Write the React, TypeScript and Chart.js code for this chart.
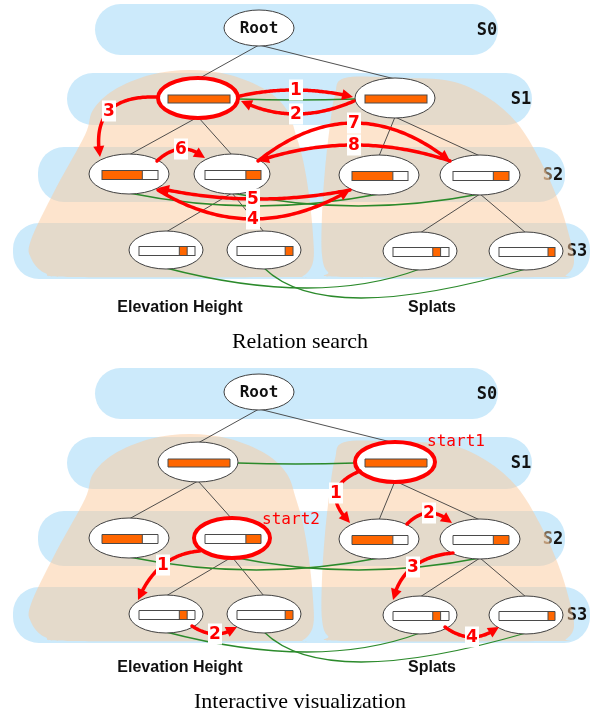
import React, { useEffect, useRef } from 'react';
import { Chart, registerables } from 'chart.js';

Chart.register(...registerables);

// ---------- panels ----------
const panelOffset = [0, 364];
const panelTitle = ['Relation search', 'Interactive visualization'];
const panelTitleY = [342, 338];
const panelGroupY = [308, 304];

const groupNames = ['Elevation Height', 'Splats'];
const groupX = [180, 432];

// ---------- scale bands ----------
const bandNames = ['S0', 'S1', 'S2', 'S3'];
const bandLeft = [95, 67, 38, 13];
const bandRight = [498, 532, 565, 590];
const bandTop = [4, 73, 147, 223];
const bandBottom = [55, 125, 202, 279];
const bandLabelX = [487, 521, 553, 577];

// ---------- nodes ----------
const nodeLevel = [0, 1, 1, 2, 2, 2, 2, 3, 3, 3, 3];
const nodeX = [259, 198, 395, 129, 232, 379, 480, 166, 264, 420, 526];
const nodeY = [28, 98, 98, 174, 174, 175, 175, 250, 250, 251, 251];
const nodeRx = [35, 40, 40, 40, 38, 40, 40, 37, 37, 37, 37];
const nodeRy = [18, 20, 20, 20, 20, 20, 20, 19, 19, 19, 19];
const barStart = [0, 0, 0, 0, 0.73, 0, 0.72, 0.72, 0.86, 0.71, 0.875];
const barEnd = [0, 1, 1, 0.72, 1, 0.73, 1, 0.86, 1, 0.85, 1];
const levelBarW = [0, 62, 56, 56];
const levelBarH = [0, 8, 9, 9];

// tree edges
const edgeParent = [0, 0, 1, 1, 2, 2, 4, 4, 6, 6];
const edgeChild = [1, 2, 3, 4, 5, 6, 7, 8, 9, 10];

// green relation links
const greenFrom = [1, 3, 4, 7, 8];
const greenTo = [2, 5, 6, 9, 10];
const greenMidX = [296, 254, 356, 305, 360];
const greenMidY = [100, 206, 206, 288, 298];

// blobs (data groups)
const leftBlobX = [85, 93, 114, 150, 190, 230, 266, 287, 296, 303, 309, 313, 313, 303, 285, 75, 45, 31, 31, 55];
const leftBlobY = [135, 110, 90, 75, 70, 75, 90, 110, 135, 160, 195, 235, 262, 276, 277, 277, 273, 258, 240, 190];
const rightBlobX = [345, 400, 450, 487, 517, 540, 558, 569, 574, 566, 550, 345, 328, 322, 322, 325, 330, 335];
const rightBlobY = [78, 78, 81, 97, 123, 160, 200, 235, 262, 275, 277, 277, 272, 255, 215, 170, 125, 95];

// red search arrows
const arrowPanel = [0, 0, 0, 0, 0, 0, 0, 0, 1, 1, 1, 1, 1, 1];
const arrowLabel = ['1', '2', '3', '6', '7', '8', '5', '4', '1', '2', '1', '2', '3', '4'];
const arrowX0 = [240, 354, 157, 157, 258, 450, 350, 158, 360, 407, 200, 192, 453, 445];
const arrowY0 = [96, 101, 97, 161, 161, 161, 190, 190, 107, 160, 187, 262, 189, 263];
const arrowXm = [296, 296, 109, 181, 354, 354, 253, 253, 336, 429, 163, 215, 413, 472];
const arrowYm = [90, 114, 111, 149, 123, 145, 199, 219, 129, 149, 201, 270, 203, 273];
const arrowX1 = [353, 241, 100, 205, 450, 258, 158, 350, 350, 452, 138, 237, 393, 499];
const arrowY1 = [97, 101, 157, 158, 161, 161, 188, 190, 159, 159, 236, 263, 236, 263];

// highlighted nodes
const highlightPanel = [0, 1, 1];
const highlightNode = [1, 2, 4];

// start labels
const startText = ['start1', 'start2'];
const startPanel = [1, 1];
const startX = [456, 291];
const startY = [78, 156];

const BLUE = 'rgb(204,234,251)';
const BLOB = 'rgba(251,201,155,0.5)';
const RED = '#ff0000';
const ORANGE = '#ff6600';
const GREEN = '#2b8a2b';
const DARK = '#111111';

function closedSpline(ctx: CanvasRenderingContext2D, pts: number[][]) {
  const n = pts.length;
  ctx.beginPath();
  ctx.moveTo(pts[0][0], pts[0][1]);
  for (let i = 0; i < n; i++) {
    const p0 = pts[(i - 1 + n) % n];
    const p1 = pts[i];
    const p2 = pts[(i + 1) % n];
    const p3 = pts[(i + 2) % n];
    const c1x = p1[0] + (p2[0] - p0[0]) / 6;
    const c1y = p1[1] + (p2[1] - p0[1]) / 6;
    const c2x = p2[0] - (p3[0] - p1[0]) / 6;
    const c2y = p2[1] - (p3[1] - p1[1]) / 6;
    ctx.bezierCurveTo(c1x, c1y, c2x, c2y, p2[0], p2[1]);
  }
  ctx.closePath();
}

function roundRect(ctx: CanvasRenderingContext2D, x0: number, y0: number, x1: number, y1: number, r: number) {
  ctx.beginPath();
  ctx.moveTo(x0 + r, y0);
  ctx.lineTo(x1 - r, y0);
  ctx.arcTo(x1, y0, x1, y0 + r, r);
  ctx.lineTo(x1, y1 - r);
  ctx.arcTo(x1, y1, x1 - r, y1, r);
  ctx.lineTo(x0 + r, y1);
  ctx.arcTo(x0, y1, x0, y1 - r, r);
  ctx.lineTo(x0, y0 + r);
  ctx.arcTo(x0, y0, x0 + r, y0, r);
  ctx.closePath();
}

const diagramPlugin = {
  id: 'diagram',
  beforeDatasetsDraw(chart: any) {
    const ctx: CanvasRenderingContext2D = chart.ctx;
    const xs = chart.scales.x;
    const ys = chart.scales.y;
    ctx.save();
    ctx.fillStyle = '#ffffff';
    ctx.fillRect(0, 0, chart.width, chart.height);

    for (let p = 0; p < panelOffset.length; p++) {
      const off = panelOffset[p];
      const X = (v: number) => xs.getPixelForValue(v);
      const Y = (v: number) => ys.getPixelForValue(v + off);
      const DX = (v: number) => Math.abs(xs.getPixelForValue(v) - xs.getPixelForValue(0));
      const DY = (v: number) => Math.abs(ys.getPixelForValue(v) - ys.getPixelForValue(0));

      // bands
      for (let b = 0; b < bandNames.length; b++) {
        const x0 = X(bandLeft[b]), x1 = X(bandRight[b]);
        const y0 = Y(bandTop[b]), y1 = Y(bandBottom[b]);
        roundRect(ctx, x0, y0, x1, y1, Math.min((y1 - y0) / 2, 26));
        ctx.fillStyle = BLUE;
        ctx.fill();
      }

      // band labels (under blobs)
      ctx.font = 'bold 17px "DejaVu Sans Mono", monospace';
      ctx.textBaseline = 'middle';
      for (let b = 0; b < bandNames.length; b++) {
        const cy = Y((bandTop[b] + bandBottom[b]) / 2 + 1);
        const txt = bandNames[b];
        const w = ctx.measureText(txt).width;
        const cx = X(bandLabelX[b]);
        ctx.textAlign = 'left';
        ctx.fillStyle = b === 2 ? '#7d6a55' : DARK;
        ctx.fillText(txt[0], cx - w / 2, cy);
        ctx.fillStyle = DARK;
        ctx.fillText(txt.slice(1), cx - w / 2 + ctx.measureText(txt[0]).width, cy);
      }

      // blobs
      ctx.fillStyle = BLOB;
      closedSpline(ctx, leftBlobX.map((x, i) => [X(x), Y(leftBlobY[i])]));
      ctx.fill();
      closedSpline(ctx, rightBlobX.map((x, i) => [X(x), Y(rightBlobY[i])]));
      ctx.fill();

      // tree edges
      ctx.strokeStyle = '#3c3c3c';
      ctx.lineWidth = 0.9;
      for (let e = 0; e < edgeParent.length; e++) {
        const a = edgeParent[e], c = edgeChild[e];
        ctx.beginPath();
        ctx.moveTo(X(nodeX[a]), Y(nodeY[a] + nodeRy[a] - 1));
        ctx.lineTo(X(nodeX[c]), Y(nodeY[c] - nodeRy[c] + 1));
        ctx.stroke();
      }

      // green links
      ctx.strokeStyle = GREEN;
      ctx.lineWidth = 1.3;
      for (let g = 0; g < greenFrom.length; g++) {
        const a = greenFrom[g], c = greenTo[g];
        let ax: number, ay: number, cx: number, cy: number;
        if (nodeLevel[a] === 1) {
          ax = nodeX[a] + nodeRx[a]; ay = nodeY[a] + 1;
          cx = nodeX[c] - nodeRx[c]; cy = nodeY[c] + 1;
        } else {
          ax = nodeX[a]; ay = nodeY[a] + nodeRy[a] - 1;
          cx = nodeX[c]; cy = nodeY[c] + nodeRy[c] - 1;
        }
        const mx = greenMidX[g], my = greenMidY[g];
        const kx = 2 * mx - (ax + cx) / 2, ky = 2 * my - (ay + cy) / 2;
        ctx.beginPath();
        ctx.moveTo(X(ax), Y(ay));
        ctx.quadraticCurveTo(X(kx), Y(ky), X(cx), Y(cy));
        ctx.stroke();
      }

      // nodes
      for (let n = 0; n < nodeX.length; n++) {
        const cx = X(nodeX[n]), cy = Y(nodeY[n]);
        ctx.beginPath();
        ctx.ellipse(cx, cy, DX(nodeRx[n]), DY(nodeRy[n]), 0, 0, Math.PI * 2);
        ctx.fillStyle = '#ffffff';
        ctx.fill();
        ctx.strokeStyle = '#404040';
        ctx.lineWidth = 1;
        ctx.stroke();
        const lv = nodeLevel[n];
        if (lv === 0) {
          ctx.fillStyle = DARK;
          ctx.font = 'bold 16px "DejaVu Sans Mono", monospace';
          ctx.textAlign = 'center';
          ctx.textBaseline = 'middle';
          ctx.fillText('Root', cx, cy + 1);
        } else {
          const bw = levelBarW[lv], bh = levelBarH[lv];
          const bx0 = nodeX[n] + 1 - bw / 2;
          const by0 = nodeY[n] + 1 - bh / 2;
          const px0 = X(bx0), px1 = X(bx0 + bw);
          const py0 = Y(by0), py1 = Y(by0 + bh);
          ctx.fillStyle = '#ffffff';
          ctx.fillRect(px0, py0, px1 - px0, py1 - py0);
          const o0 = X(bx0 + bw * barStart[n]), o1 = X(bx0 + bw * barEnd[n]);
          ctx.fillStyle = ORANGE;
          ctx.fillRect(o0, py0, o1 - o0, py1 - py0);
          ctx.strokeStyle = '#4a4a4a';
          ctx.lineWidth = 1;
          ctx.strokeRect(px0, py0, px1 - px0, py1 - py0);
          ctx.beginPath();
          if (barStart[n] > 0) { ctx.moveTo(o0, py0); ctx.lineTo(o0, py1); }
          if (barEnd[n] < 1) { ctx.moveTo(o1, py0); ctx.lineTo(o1, py1); }
          ctx.stroke();
        }
      }

      // highlight rings
      ctx.strokeStyle = RED;
      ctx.lineWidth = 4;
      for (let h = 0; h < highlightNode.length; h++) {
        if (highlightPanel[h] !== p) continue;
        const n = highlightNode[h];
        ctx.beginPath();
        ctx.ellipse(X(nodeX[n]), Y(nodeY[n]), DX(nodeRx[n]), DY(nodeRy[n]), 0, 0, Math.PI * 2);
        ctx.stroke();
      }

      // red arrows
      for (let a = 0; a < arrowLabel.length; a++) {
        if (arrowPanel[a] !== p) continue;
        const P0 = [X(arrowX0[a]), Y(arrowY0[a])];
        const M = [X(arrowXm[a]), Y(arrowYm[a])];
        const P2 = [X(arrowX1[a]), Y(arrowY1[a])];
        const C = [2 * M[0] - (P0[0] + P2[0]) / 2, 2 * M[1] - (P0[1] + P2[1]) / 2];
        const pt = (t: number) => [
          (1 - t) * (1 - t) * P0[0] + 2 * (1 - t) * t * C[0] + t * t * P2[0],
          (1 - t) * (1 - t) * P0[1] + 2 * (1 - t) * t * C[1] + t * t * P2[1],
        ];
        const headLen = 11, headW = 5.5;
        ctx.strokeStyle = RED;
        ctx.lineWidth = 3.5;
        ctx.lineCap = 'round';
        ctx.lineJoin = 'round';
        ctx.beginPath();
        ctx.moveTo(P0[0], P0[1]);
        let dirFrom = P0;
        const steps = 80;
        for (let i = 1; i <= steps; i++) {
          const q = pt(i / steps);
          const d = Math.hypot(q[0] - P2[0], q[1] - P2[1]);
          if (d < headLen * 0.8) break;
          ctx.lineTo(q[0], q[1]);
          if (d >= headLen) dirFrom = q;
        }
        ctx.stroke();
        ctx.lineCap = 'butt';
        let dx = P2[0] - dirFrom[0], dy = P2[1] - dirFrom[1];
        const L = Math.hypot(dx, dy) || 1;
        dx /= L; dy /= L;
        const bx = P2[0] - dx * headLen, by = P2[1] - dy * headLen;
        ctx.fillStyle = RED;
        ctx.beginPath();
        ctx.moveTo(P2[0], P2[1]);
        ctx.lineTo(bx - dy * headW, by + dx * headW);
        ctx.lineTo(bx + dy * headW, by - dx * headW);
        ctx.closePath();
        ctx.fill();
        // label
        ctx.fillStyle = '#ffffff';
        ctx.fillRect(M[0] - 7, M[1] - 10.5, 14, 21);
        ctx.fillStyle = RED;
        ctx.font = 'bold 17px "DejaVu Sans", sans-serif';
        ctx.textAlign = 'center';
        ctx.textBaseline = 'middle';
        ctx.fillText(arrowLabel[a], M[0], M[1] + 1);
      }

      // start labels
      ctx.font = '16px "DejaVu Sans Mono", monospace';
      ctx.fillStyle = RED;
      ctx.textAlign = 'center';
      ctx.textBaseline = 'middle';
      for (let s = 0; s < startText.length; s++) {
        if (startPanel[s] !== p) continue;
        ctx.fillText(startText[s], X(startX[s]), Y(startY[s]));
      }

      // group labels
      ctx.font = 'bold 16px "Liberation Sans", Arial, sans-serif';
      ctx.fillStyle = DARK;
      for (let g = 0; g < groupNames.length; g++) {
        ctx.fillText(groupNames[g], X(groupX[g]), Y(panelGroupY[p]));
      }

      // panel title
      ctx.font = '22px "Liberation Serif", "Times New Roman", serif';
      ctx.fillStyle = '#000000';
      ctx.fillText(panelTitle[p], X(300), Y(panelTitleY[p]));
    }
    ctx.restore();
  },
};

export default function App() {
  const ref = useRef<HTMLCanvasElement>(null);
  useEffect(() => {
    document.body.style.margin = '0';
    document.documentElement.style.overflow = 'hidden';
    const canvas = ref.current;
    if (!canvas) return;
    const chart = new Chart(canvas, {
      type: 'scatter',
      data: {
        datasets: [
          {
            data: nodeX.map((x, i) => ({ x, y: nodeY[i] })),
            pointRadius: 0,
            showLine: false,
          },
        ],
      },
      options: {
        animation: false,
        responsive: false,
        devicePixelRatio: 1,
        events: [],
        layout: { padding: 0 },
        plugins: { legend: { display: false }, tooltip: { enabled: false } },
        scales: {
          x: { type: 'linear', min: 0, max: 595, display: false },
          y: { type: 'linear', min: 0, max: 717, reverse: true, display: false },
        },
      },
      plugins: [diagramPlugin],
    } as any);
    return () => chart.destroy();
  }, []);
  return (
    <div style={{ width: 595, height: 717 }}>
      <canvas ref={ref} width={595} height={717} style={{ display: 'block' }} />
    </div>
  );
}
